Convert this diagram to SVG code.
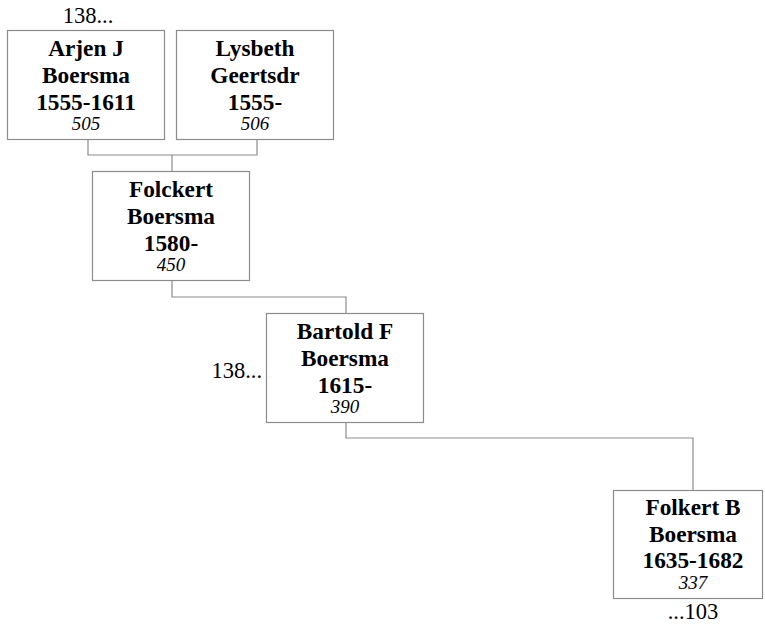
<svg xmlns="http://www.w3.org/2000/svg" width="765" height="626" viewBox="0 0 765 626">
<style>
.box{fill:#fff;stroke:#8c8c8c;stroke-width:1.2}
.con{fill:none;stroke:#8c8c8c;stroke-width:1.2}
.n{font-family:"Liberation Serif","Times New Roman",serif;font-weight:bold;font-size:23.3px;fill:#000;text-anchor:middle}
.i{font-family:"Liberation Serif","Times New Roman",serif;font-style:italic;font-size:19px;fill:#000;text-anchor:middle}
.r{font-family:"Liberation Serif","Times New Roman",serif;font-size:22.5px;fill:#000}
</style>
<rect width="765" height="626" fill="#fff"/>
<g id="connectors">
<path class="con" d="M88,139 V155 H257 V139 M172,155 V172"/>
<path class="con" d="M172,281 V297 H346 V313"/>
<path class="con" d="M346,423 V438 H693 V490"/>
</g>
<g id="n505">
<rect class="box" x="7.5" y="30.5" width="157" height="109"/>
<text class="n" x="86" y="56">Arjen J</text>
<text class="n" x="86" y="83">Boersma</text>
<text class="n" x="86" y="109.5">1555-1611</text>
<text class="i" x="86" y="130">505</text>
<text class="r" x="88" y="23" text-anchor="middle">138...</text>
</g>
<g id="n506">
<rect class="box" x="176.5" y="30.5" width="157" height="109"/>
<text class="n" x="255" y="56">Lysbeth</text>
<text class="n" x="255" y="83">Geertsdr</text>
<text class="n" x="255" y="109.5">1555-</text>
<text class="i" x="255" y="130">506</text>
</g>
<g id="n450">
<rect class="box" x="92.5" y="171.5" width="157" height="109"/>
<text class="n" x="171" y="197">Folckert</text>
<text class="n" x="171" y="224">Boersma</text>
<text class="n" x="171" y="250.5">1580-</text>
<text class="i" x="171" y="271">450</text>
</g>
<g id="n390">
<rect class="box" x="266.5" y="313.5" width="157" height="109"/>
<text class="n" x="345" y="339">Bartold F</text>
<text class="n" x="345" y="366">Boersma</text>
<text class="n" x="345" y="392.5">1615-</text>
<text class="i" x="345" y="413">390</text>
<text class="r" x="262" y="378" text-anchor="end">138...</text>
</g>
<g id="n337">
<rect class="box" x="613.5" y="490.5" width="149" height="108"/>
<text class="n" x="693" y="515">Folkert B</text>
<text class="n" x="693" y="542">Boersma</text>
<text class="n" x="693" y="568">1635-1682</text>
<text class="i" x="693" y="589">337</text>
<text class="r" x="693" y="619" text-anchor="middle">...103</text>
</g>
</svg>
